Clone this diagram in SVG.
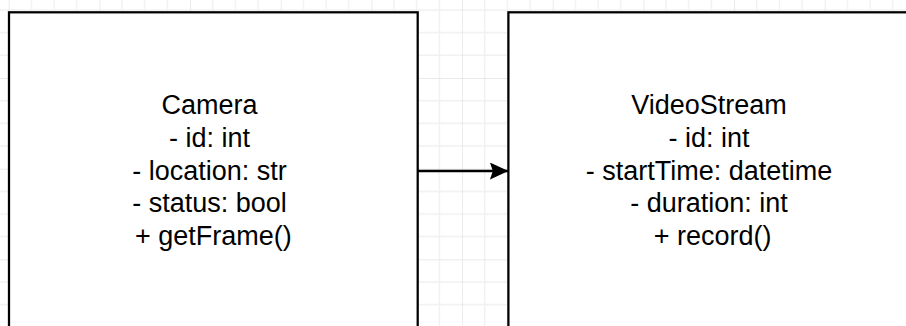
<svg xmlns="http://www.w3.org/2000/svg" width="906" height="326" viewBox="0 0 906 326">
  <defs>
    <!-- background grid: minor every 22.67px, major every 4 minor cells -->
    <pattern id="grid" patternUnits="userSpaceOnUse" x="8.7" y="-12.67" width="90.67" height="90.67">
      <path d="M22.67 0V90.67M45.33 0V90.67M68 0V90.67M0 22.67H90.67M0 45.33H90.67M0 68H90.67" fill="none" stroke="#f0f0f0" stroke-width="1.3"/>
      <path d="M0 0V90.67M0 0H90.67" fill="none" stroke="#e2e2e2" stroke-width="1.3"/>
    </pattern>
    <marker id="arrow" markerUnits="userSpaceOnUse" markerWidth="20" markerHeight="18" refX="18.5" refY="8.5" orient="auto">
      <path d="M0 0L18.5 8.5L0 17L3 8.5Z" fill="#000"/>
    </marker>
    <style>
      .box { fill: #fff; stroke: #000; stroke-width: 2.27; }
      .label { font-family: "Liberation Sans", Arial, Helvetica, sans-serif; font-size: 27px; fill: #000; text-anchor: middle; }
      .edge { fill: none; stroke: #000; stroke-width: 2.27; }
    </style>
  </defs>

  <rect width="906" height="326" fill="#fff"/>
  <rect width="906" height="326" fill="url(#grid)"/>

  <g id="camera">
    <rect class="box" x="9" y="12.3" width="408.7" height="330"/>
    <text class="label">
      <tspan x="213.3" y="114.3">Camera</tspan>
      <tspan x="213.3" y="146.9">- id: int</tspan>
      <tspan x="213.3" y="179.5">- location: str</tspan>
      <tspan x="213.3" y="212.1">- status: bool</tspan>
      <tspan x="213.3" y="244.7">+ getFrame()</tspan>
    </text>
  </g>

  <g id="videostream">
    <rect class="box" x="508.4" y="12.3" width="408.7" height="330"/>
    <text class="label">
      <tspan x="712.7" y="114.3">VideoStream</tspan>
      <tspan x="712.7" y="146.9">- id: int</tspan>
      <tspan x="712.7" y="179.5">- startTime: datetime</tspan>
      <tspan x="712.7" y="212.1">- duration: int</tspan>
      <tspan x="712.7" y="244.7">+ record()</tspan>
    </text>
  </g>

  <g id="connectors">
    <path class="edge" d="M417.7 171H508.4" marker-end="url(#arrow)"/>
  </g>
</svg>
